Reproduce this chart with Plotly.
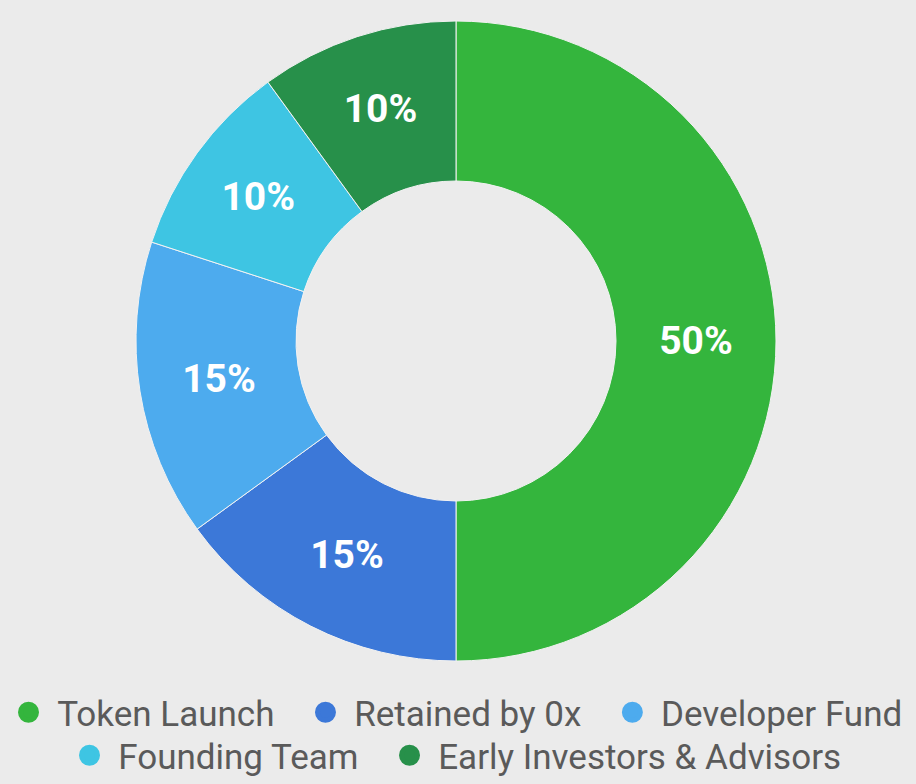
import plotly.graph_objects as go

labels = ["Token Launch", "Retained by 0x", "Developer Fund", "Founding Team", "Early Investors & Advisors"]
values = [50, 15, 15, 10, 10]
colors = ["#34B53D", "#3C78D8", "#4DABEE", "#3EC5E3", "#27904A"]
legend_rows = ["legend", "legend", "legend", "legend2", "legend2"]

bg = "#EBEBEB"
NB = "\u00a0"

fig = go.Figure()
fig.add_trace(go.Pie(
    labels=labels, values=values, sort=False, direction="clockwise", rotation=0,
    hole=0.5, textinfo="percent", textposition="inside", insidetextorientation="horizontal",
    texttemplate="%{percent:.0%}",
    textfont=dict(family="Roboto", size=39, color="white", weight="bold"),
    marker=dict(colors=colors, line=dict(color="#F2F2F2", width=1)),
    domain=dict(x=[136/916, 776/916], y=[1-661/784, 1-21/784]),
    showlegend=False,
))
for i, (lab, col, lg) in enumerate(zip(labels, colors, legend_rows)):
    last_in_row = (i == len(labels) - 1) or (legend_rows[i + 1] != lg)
    name = NB + lab + ("" if last_in_row else NB * 3)
    fig.add_trace(go.Scatter(x=[None], y=[None], mode="markers", name=name,
                             legend=lg,
                             marker=dict(symbol="circle", size=16, color=col,
                                         line=dict(color=col, width=5))))

legend_font = dict(family="Roboto", size=35, color="#5A5A5A")
fig.update_layout(
    width=916, height=784,
    margin=dict(l=0, r=0, t=0, b=0, autoexpand=False),
    paper_bgcolor=bg, plot_bgcolor=bg,
    xaxis=dict(visible=False), yaxis=dict(visible=False),
    legend=dict(orientation="h", x=0.5, xanchor="center", y=1-683/784, yanchor="top",
                font=legend_font, bgcolor="rgba(0,0,0,0)", itemsizing="trace"),
    legend2=dict(orientation="h", x=0.5, xanchor="center", y=1-726/784, yanchor="top",
                 font=legend_font, bgcolor="rgba(0,0,0,0)", itemsizing="trace"),
)
fig.write_html("out.html", config={"displayModeBar": False},
               post_script="document.body.style.margin='0';")
